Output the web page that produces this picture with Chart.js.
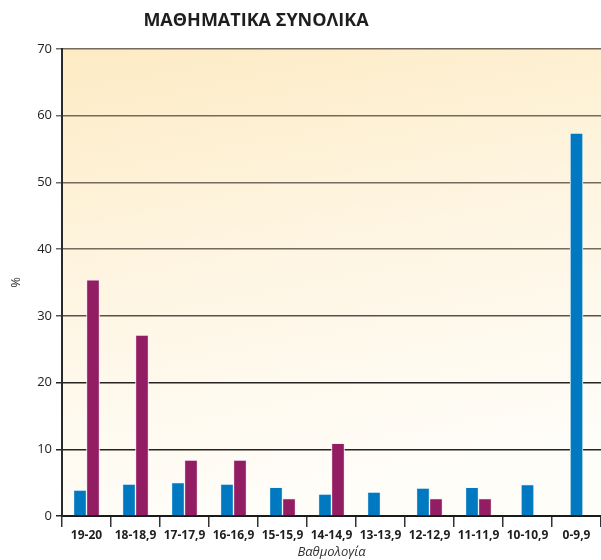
<!DOCTYPE html>
<html>
<head>
<meta charset="utf-8">
<script src="https://cdn.jsdelivr.net/npm/chart.js@4/dist/chart.umd.min.js"></script>
<style>
  html, body { margin: 0; padding: 0; background: #fff; }
  #wrap { width: 601px; height: 560px; }
</style>
</head>
<body>
<div id="wrap"><canvas id="chart" width="601" height="560"></canvas></div>
<script>
const categories = ['19-20', '18-18,9', '17-17,9', '16-16,9', '15-15,9', '14-14,9', '13-13,9', '12-12,9', '11-11,9', '10-10,9', '0-9,9'];
const blueValues = [3.9, 4.8, 5.0, 4.8, 4.3, 3.3, 3.6, 4.2, 4.3, 4.7, 57.4];
const purpleValues = [35.4, 27.1, 8.4, 8.4, 2.6, 10.9, 0, 2.6, 2.6, null, null];
const yTicks = [0, 10, 20, 30, 40, 50, 60, 70];

const titleText = 'ΜΑΘΗΜΑΤΙΚΑ ΣΥΝΟΛΙΚΑ';
const fontFamily = '"Open Sans", "Noto Sans", sans-serif';

// paper background + gradient panel behind the bars
const backgroundPlugin = {
    id: 'panelBackground',
    beforeDraw(chart) {
        const { ctx, chartArea } = chart;
        ctx.save();
        ctx.fillStyle = '#ffffff';
        ctx.fillRect(0, 0, chart.width, chart.height);
        const g = ctx.createLinearGradient(chartArea.left, chartArea.top, chartArea.left + 90, chartArea.bottom);
        g.addColorStop(0, '#fdebc4');
        g.addColorStop(0.5, '#fef5e2');
        g.addColorStop(1, '#fffdf8');
        ctx.fillStyle = g;
        ctx.fillRect(chartArea.left, chartArea.top, chartArea.right - chartArea.left, chartArea.bottom - chartArea.top);
        ctx.restore();
    }
};

// title sits a bit left of centre in the original
const titlePlugin = {
    id: 'offsetTitle',
    afterDraw(chart) {
        const ctx = chart.ctx;
        ctx.save();
        ctx.font = 'bold 18px ' + fontFamily;
        ctx.fillStyle = '#1e1e1e';
        ctx.textAlign = 'center';
        ctx.textBaseline = 'middle';
        ctx.fillText(titleText, 256, 21);
        ctx.restore();
    }
};

// upper grid lines look lighter/browner than the lower ones
function gridColor(c) {
    const v = c.tick ? c.tick.value : 0;
    if (v >= 40) return '#756a5b';
    if (v >= 30) return '#5a5148';
    return '#262320';
}

const ctx = document.getElementById('chart');
new Chart(ctx, {
    type: 'bar',
    data: {
        labels: categories,
        datasets: [{
            label: 'A',
            data: blueValues,
            backgroundColor: '#0079c0',
            borderColor: '#eef7fc',
            borderWidth: 1,
            barThickness: 13
        }, {
            label: 'B',
            data: purpleValues,
            backgroundColor: '#931d63',
            borderColor: '#f9edf3',
            borderWidth: 1,
            barThickness: 13
        }]
    },
    options: {
        responsive: false,
        animation: false,
        skipNull: true,
        layout: { padding: { top: 49, left: 0, right: 0, bottom: 0 } },
        plugins: {
            legend: { display: false },
            tooltip: { enabled: false }
        },
        scales: {
            x: {
                offset: true,
                grid: {
                    offset: true,
                    drawOnChartArea: false,
                    drawTicks: true,
                    tickLength: 11,
                    color: '#333',
                    lineWidth: 1.5
                },
                border: { color: '#1a1a1a', width: 2 },
                ticks: {
                    autoSkip: false,
                    maxRotation: 0,
                    minRotation: 0,
                    padding: 1,
                    color: '#1e1e1e',
                    font: { family: fontFamily, size: 12, weight: 'bold' }
                },
                title: {
                    display: true,
                    text: 'Βαθμολογία',
                    color: '#333',
                    padding: { top: 2, bottom: 0 },
                    font: { family: fontFamily, size: 13, style: 'italic' }
                },
                afterFit(scale) { scale.height = 44; }
            },
            y: {
                min: 0,
                max: 70,
                afterBuildTicks(scale) { scale.ticks = yTicks.map(v => ({ value: v })); },
                grid: {
                    color: gridColor,
                    lineWidth: 1.5,
                    tickLength: 6
                },
                border: { color: '#2a2a2a', width: 2 },
                ticks: {
                    padding: 4,
                    color: '#222',
                    font: { family: fontFamily, size: 13 }
                },
                title: {
                    display: true,
                    text: '%',
                    color: '#333',
                    padding: { top: 8, bottom: 0 },
                    font: { family: fontFamily, size: 13 }
                },
                afterFit(scale) { scale.width = 62; }
            }
        }
    },
    plugins: [backgroundPlugin, titlePlugin]
});
</script>
</body>
</html>
